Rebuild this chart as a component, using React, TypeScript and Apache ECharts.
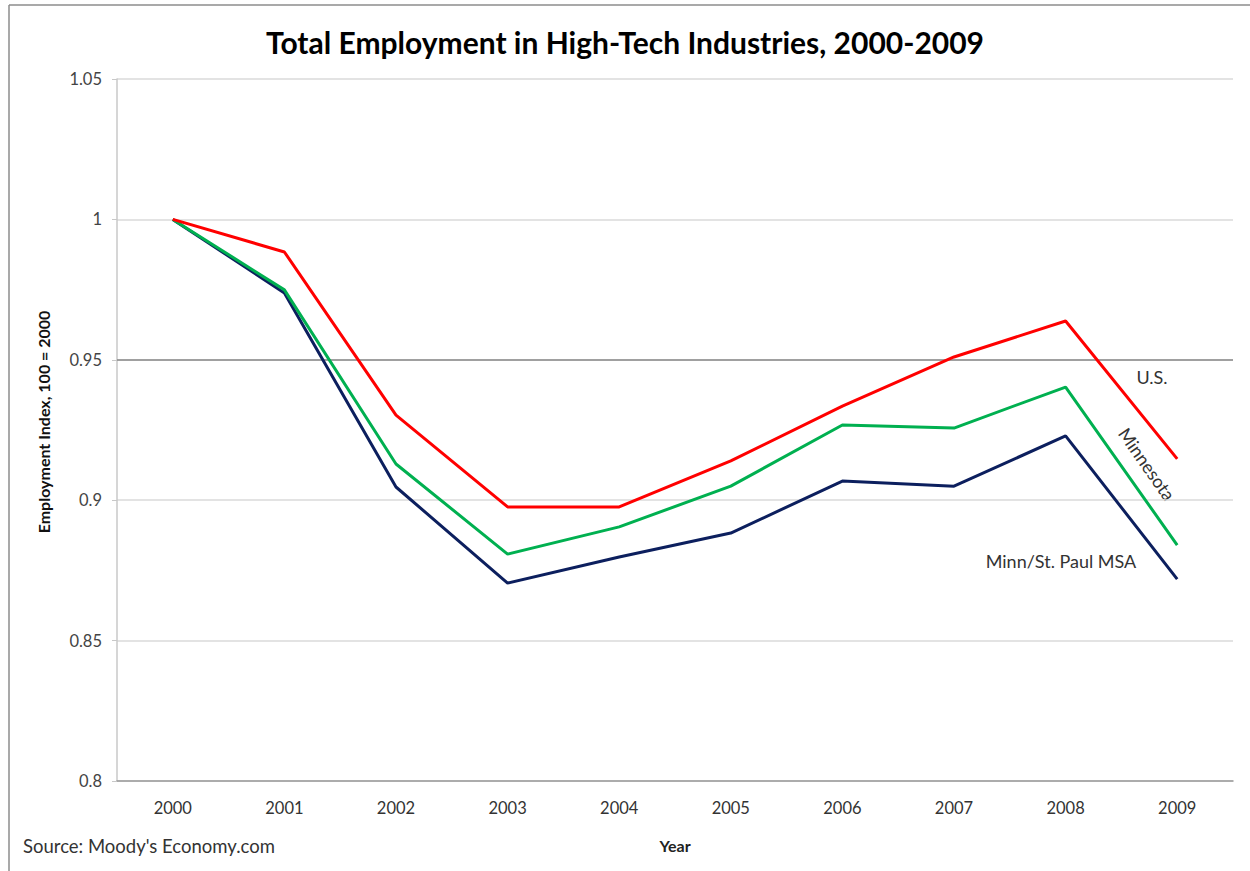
import React, { useEffect, useRef } from "react";
import * as echarts from "echarts";

const years = ["2000", "2001", "2002", "2003", "2004", "2005", "2006", "2007", "2008", "2009"];
const usValues = [1.0, 0.9884, 0.9303, 0.8976, 0.8976, 0.914, 0.9335, 0.951, 0.9638, 0.9147];
const minnesotaValues = [1.0, 0.9749, 0.9129, 0.8808, 0.8905, 0.905, 0.9268, 0.9257, 0.9403, 0.884];
const msaValues = [1.0, 0.9738, 0.9047, 0.8705, 0.8798, 0.8883, 0.9068, 0.905, 0.9229, 0.8719];
const highlightLine = 0.95;

const FONT = "Lato, 'Open Sans', sans-serif";

export default function App() {
  const ref = useRef<HTMLDivElement>(null);
  useEffect(() => {
    if (!ref.current) return;
    const chart = echarts.init(ref.current, undefined, { renderer: "svg" });
    chart.setOption({
      animation: false,
      backgroundColor: "#ffffff",
      title: {
        text: "Total Employment in High-Tech Industries, 2000-2009",
        left: "center",
        top: 22,
        textStyle: { fontFamily: FONT, fontSize: 30, fontWeight: "bold", color: "#000" },
      },
      grid: { left: 117, right: 17, top: 79, bottom: 90 },
      xAxis: {
        type: "category",
        data: years,
        boundaryGap: true,
        name: "Year",
        nameLocation: "middle",
        nameGap: 56,
        nameTextStyle: { fontFamily: FONT, fontSize: 16, fontWeight: "bold", color: "#222" },
        axisLine: { lineStyle: { color: "#9a9a9a", width: 1.5 } },
        axisTick: { show: false },
        axisLabel: { fontFamily: FONT, fontSize: 16.5, color: "#333", margin: 18 },
      },
      yAxis: {
        type: "value",
        min: 0.8,
        max: 1.05,
        interval: 0.05,
        name: "Employment Index, 100 = 2000",
        nameLocation: "middle",
        nameGap: 66,
        nameTextStyle: { fontFamily: FONT, fontSize: 16, fontWeight: "bold", color: "#111", padding: [0, 0, 0, 16] },
        axisLine: { show: true, lineStyle: { color: "#c8c8c8", width: 1.5 } },
        axisTick: { show: true, length: 5, lineStyle: { color: "#c8c8c8" } },
        axisLabel: { fontFamily: FONT, fontSize: 16.5, color: "#444", margin: 15 },
        splitLine: { show: true, lineStyle: { color: "#dadada", width: 1.5 } },
      },
      series: [
        {
          name: "U.S.",
          type: "line",
          data: usValues,
          symbol: "none",
          lineStyle: { color: "#ff0000", width: 3 },
          itemStyle: { color: "#ff0000" },
          markLine: {
            silent: true,
            symbol: "none",
            label: { show: false },
            lineStyle: { color: "#8a8a8a", width: 1.5, type: "solid" },
            data: [{ yAxis: highlightLine }],
            z: 1,
          },
          z: 4,
        },
        {
          name: "Minnesota",
          type: "line",
          data: minnesotaValues,
          symbol: "none",
          lineStyle: { color: "#00b050", width: 3 },
          itemStyle: { color: "#00b050" },
          z: 3,
        },
        {
          name: "Minn/St. Paul MSA",
          type: "line",
          data: msaValues,
          symbol: "none",
          lineStyle: { color: "#0c1f5e", width: 3 },
          itemStyle: { color: "#0c1f5e" },
          z: 2,
        },
      ],
      graphic: [
        {
          type: "line",
          shape: { x1: 9, y1: 5, x2: 1250, y2: 5 },
          style: { stroke: "#8c8c8c", lineWidth: 1.5 },
        },
        {
          type: "line",
          shape: { x1: 9, y1: 5, x2: 9, y2: 871 },
          style: { stroke: "#8c8c8c", lineWidth: 1.5 },
        },
        {
          type: "text",
          x: 1152,
          y: 377,
          style: { text: "U.S.", font: `18px ${FONT}`, fill: "#333", align: "center", verticalAlign: "middle" },
        },
        {
          type: "text",
          x: 1147,
          y: 464,
          rotation: -Math.PI * 55 / 180,
          style: { text: "Minnesota", font: `18px ${FONT}`, fill: "#333", align: "center", verticalAlign: "middle" },
        },
        {
          type: "text",
          x: 1061,
          y: 561,
          style: { text: "Minn/St. Paul MSA", font: `18px ${FONT}`, fill: "#333", align: "center", verticalAlign: "middle" },
        },
        {
          type: "text",
          x: 23,
          y: 846,
          style: { text: "Source: Moody's Economy.com", font: `18.5px ${FONT}`, fill: "#333", align: "left", verticalAlign: "middle" },
        },
      ],
    });
    return () => chart.dispose();
  }, []);
  return (
    <div
      ref={ref}
      style={{ position: "fixed", left: 0, top: 0, width: 1250, height: 871 }}
    />
  );
}
